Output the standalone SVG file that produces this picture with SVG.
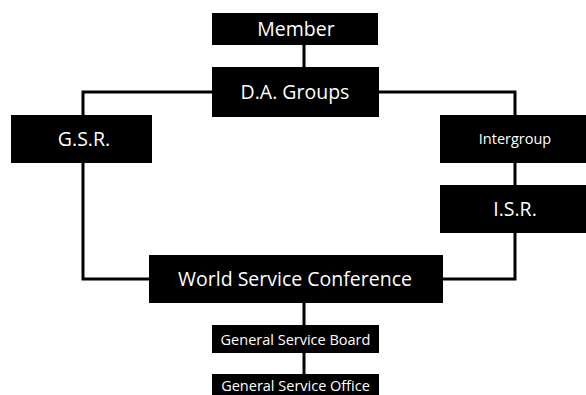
<svg xmlns="http://www.w3.org/2000/svg" width="586" height="395" viewBox="0 0 586 395">
<style>
.box{fill:#000}
.t{fill:#fff;font-family:"Open Sans","Liberation Sans",sans-serif;text-anchor:middle}
.l{font-size:19.5px}
.s{font-size:14.5px}
.c{fill:none;stroke:#000;stroke-width:3}
</style>
<rect width="586" height="395" fill="#fff"/>
<g id="connectors">
<path class="c" d="M304 45V67"/>
<path class="c" d="M212 92H83V115"/>
<path class="c" d="M379 92H515V115"/>
<path class="c" d="M515 163V185"/>
<path class="c" d="M83 163V279H149"/>
<path class="c" d="M515 233V279H443"/>
<path class="c" d="M304 303V325"/>
<path class="c" d="M304 353V374"/>
</g>
<g id="member"><rect class="box" x="212" y="13" width="166" height="32"/><text class="t l" x="296" y="36">Member</text></g>
<g id="da-groups"><rect class="box" x="212" y="67" width="167" height="50"/><text class="t l" x="295" y="99">D.A. Groups</text></g>
<g id="gsr"><rect class="box" x="11" y="115" width="141" height="48"/><text class="t l" x="84" y="146">G.S.R.</text></g>
<g id="intergroup"><rect class="box" x="440" y="115" width="150" height="48"/><text class="t s" x="515" y="144">Intergroup</text></g>
<g id="isr"><rect class="box" x="440" y="185" width="150" height="48"/><text class="t l" x="515" y="216">I.S.R.</text></g>
<g id="wsc"><rect class="box" x="149" y="255" width="294" height="48"/><text class="t l" x="295" y="286">World Service Conference</text></g>
<g id="gsb"><rect class="box" x="212" y="325" width="167" height="28"/><text class="t s" x="295.5" y="344.5">General Service Board</text></g>
<g id="gso"><rect class="box" x="212" y="374" width="167" height="28"/><text class="t s" x="295.5" y="391">General Service Office</text></g>
</svg>
